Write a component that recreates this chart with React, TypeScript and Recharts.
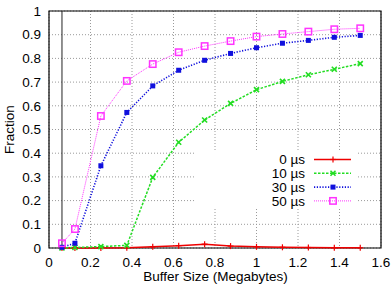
import React from 'react';
import {
  LineChart, Line, XAxis, YAxis, CartesianGrid, Legend,
  ReferenceLine, ReferenceArea,
} from 'recharts';

// buffer sizes in MB
const sizes = [0.0625, 0.125, 0.25, 0.375, 0.5, 0.625, 0.75, 0.875, 1.0, 1.125, 1.25, 1.375, 1.5];

const delay0  = [0, 0, 0, 0.001, 0.005, 0.01, 0.016, 0.008, 0.005, 0.003, 0.002, 0.001, 0.001];
const delay10 = [0, 0.002, 0.006, 0.011, 0.298, 0.446, 0.54, 0.61, 0.668, 0.703, 0.731, 0.754, 0.778];
const delay30 = [0.003, 0.02, 0.347, 0.572, 0.684, 0.75, 0.792, 0.821, 0.845, 0.864, 0.876, 0.889, 0.897];
const delay50 = [0.02, 0.08, 0.557, 0.705, 0.776, 0.826, 0.852, 0.873, 0.892, 0.903, 0.913, 0.923, 0.927];

const xTicks = [0, 0.2, 0.4, 0.6, 0.8, 1, 1.2, 1.4, 1.6];
const yTicks = [0, 0.1, 0.2, 0.3, 0.4, 0.5, 0.6, 0.7, 0.8, 0.9, 1];

const FONT = '"Liberation Sans", Arial, sans-serif';

const data = sizes.map((x, i) => ({
  x, d0: delay0[i], d10: delay10[i], d30: delay30[i], d50: delay50[i],
}));

type Mark = 'plus' | 'cross' | 'fsq' | 'osq';

function marker(kind: Mark, color: string, cx: number, cy: number, key?: string | number) {
  if (kind === 'plus') {
    return (
      <g key={key}>
        <line x1={cx - 3} y1={cy} x2={cx + 3} y2={cy} stroke={color} strokeWidth={1.2} />
        <line x1={cx} y1={cy - 3} x2={cx} y2={cy + 3} stroke={color} strokeWidth={1.2} />
      </g>
    );
  }
  if (kind === 'cross') {
    return (
      <g key={key}>
        <line x1={cx - 2.5} y1={cy - 2.5} x2={cx + 2.5} y2={cy + 2.5} stroke={color} strokeWidth={1.6} />
        <line x1={cx - 2.5} y1={cy + 2.5} x2={cx + 2.5} y2={cy - 2.5} stroke={color} strokeWidth={1.6} />
      </g>
    );
  }
  if (kind === 'fsq') {
    return <rect key={key} x={cx - 2.5} y={cy - 2.5} width={5} height={5} fill={color} />;
  }
  return <rect key={key} x={cx - 3.2} y={cy - 3.2} width={6.4} height={6.4} fill="none" stroke={color} strokeWidth={1.5} />;
}

const SERIES = [
  { key: 'd0',  name: '0 µs',  color: '#ee0000', dash: undefined, width: 1.5, mark: 'plus' as Mark },
  { key: 'd10', name: '10 µs', color: '#22dd22', dash: '2.5 1.5', width: 1.5, mark: 'cross' as Mark },
  { key: 'd30', name: '30 µs', color: '#1010dd', dash: '1.2 1.6', width: 1.6, mark: 'fsq' as Mark },
  { key: 'd50', name: '50 µs', color: '#ff33ff', dash: '1 1', width: 1, mark: 'osq' as Mark },
];

function KeyBox() {
  return (
    <svg width={163} height={58} style={{ display: 'block', background: '#fff' }}>
      {SERIES.map((s, i) => {
        const y = 8.5 + i * 13.8;
        return (
          <g key={s.key}>
            <text x={110} y={y} dy="0.35em" textAnchor="end" fontFamily={FONT} fontSize={13.5} fill="#000">
              {s.name}
            </text>
            <line x1={119} y1={y} x2={156} y2={y} stroke={s.color} strokeWidth={s.width} strokeDasharray={s.dash} />
            {marker(s.mark, s.color, 138, y)}
          </g>
        );
      })}
    </svg>
  );
}

export default function App() {
  return (
    <div style={{ position: 'absolute', left: 0, top: 0, width: 392, height: 284, background: '#fff' }}>
      <LineChart width={392} height={284} data={data} margin={{ top: 11, right: 11, left: 0, bottom: 0 }}>
        <CartesianGrid stroke="#9a9a9a" strokeDasharray="1 2" />
        <XAxis
          dataKey="x"
          type="number"
          domain={[0, 1.6]}
          ticks={xTicks}
          tickFormatter={(v: number) => String(+v.toFixed(1))}
          height={36}
          axisLine={false}
          tickLine={false}
          tickSize={0}
          tickMargin={9}
          tick={{ fill: '#000', fontSize: 13.5, fontFamily: FONT }}
          interval={0}
          label={(p: any) => (
            <text x={215.5} y={281} textAnchor="middle" fontFamily={FONT} fontSize={13.5} fill="#000">
              Buffer Size (Megabytes)
            </text>
          )}
        />
        <YAxis
          type="number"
          domain={[0, 1]}
          ticks={yTicks}
          tickFormatter={(v: number) => String(+v.toFixed(1))}
          width={49}
          axisLine={false}
          tickLine={false}
          tickSize={0}
          tickMargin={8}
          tick={{ fill: '#000', fontSize: 13.5, fontFamily: FONT }}
          interval={0}
          label={(p: any) => (
            <text
              x={14}
              y={129.5}
              textAnchor="middle"
              transform="rotate(-90 14 129.5)"
              fontFamily={FONT}
              fontSize={13.5}
              fill="#000"
            >
              Fraction
            </text>
          )}
        />
        <ReferenceLine x={0.0625} stroke="#222" strokeWidth={1} />
        <ReferenceArea x1={0} x2={1.6} y1={0} y2={1} fill="none" stroke="#000" strokeWidth={1.2} />
        <Legend
          layout="horizontal"
          align="center"
          verticalAlign="middle"
          content={() => <KeyBox />}
          wrapperStyle={{ position: 'absolute', left: 195, top: 151, width: 163, height: 58 }}
        />
        {SERIES.map(s => (
          <Line
            key={s.key}
            dataKey={s.key}
            name={s.name}
            type="linear"
            stroke={s.color}
            strokeWidth={s.width}
            strokeDasharray={s.dash}
            dot={(p: any) => marker(s.mark, s.color, p.cx, p.cy, p.index)}
            activeDot={false}
            isAnimationActive={false}
          />
        ))}
      </LineChart>
    </div>
  );
}
